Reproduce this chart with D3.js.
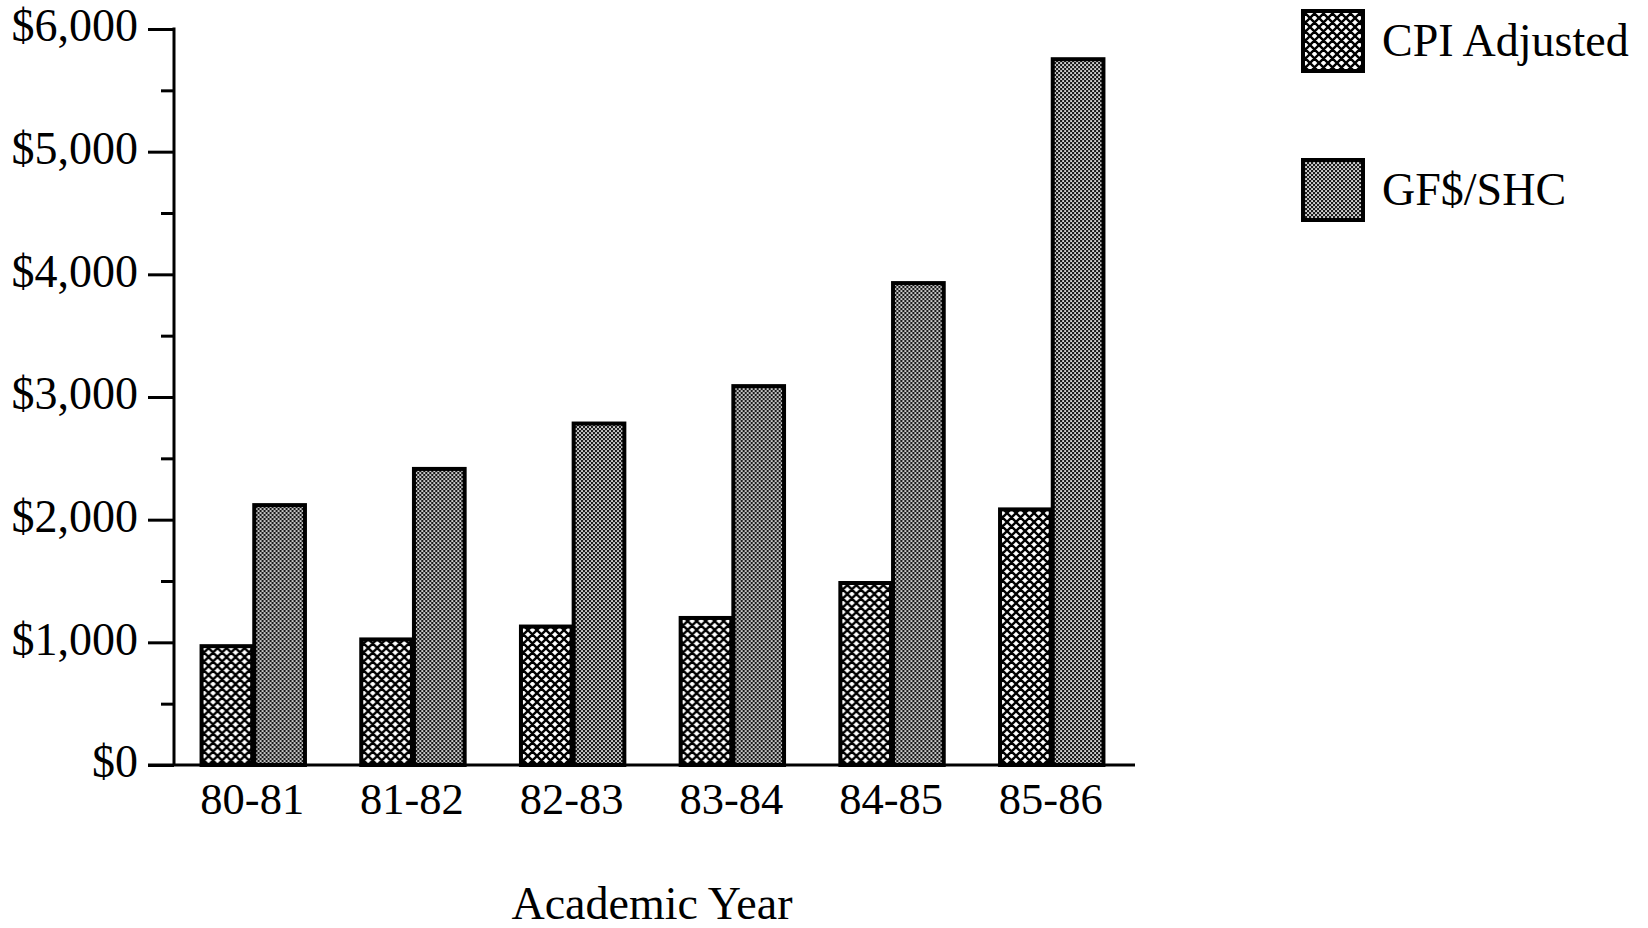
<!DOCTYPE html>
<html>
<head>
<meta charset="utf-8">
<script src="https://cdn.jsdelivr.net/npm/d3@7"></script>
<style>
  html, body { margin: 0; padding: 0; background: #fff; }
  svg { display: block; }
  text { font-family: "Liberation Serif", "Times New Roman", serif; fill: #000; }
</style>
</head>
<body>
<svg id="chart" width="1648" height="928"></svg>
<script>
// Academic years on the x axis
const years = ["80-81", "81-82", "82-83", "83-84", "84-85", "85-86"];
// Series names, in legend order
const seriesNames = ["CPI Adjusted", "GF$/SHC"];
// Dollars per student credit hour
const cpiAdjusted = [985, 1040, 1145, 1215, 1500, 2100];
const gfPerShc = [2135, 2430, 2800, 3105, 3945, 5770];
// Axis ticks
const majorTicks = [0, 1000, 2000, 3000, 4000, 5000, 6000];
const minorTicks = [500, 1500, 2500, 3500, 4500, 5500];
const xTitle = "Academic Year";

const seriesValues = [cpiAdjusted, gfPerShc];
const rows = years.map((yr, i) => ({
  year: yr,
  values: seriesNames.map((s, j) => ({ key: s, value: seriesValues[j][i] }))
}));

const svg = d3.select("#chart");
const axisX = 174;

// Fill patterns
const defs = svg.append("defs");
const hatch = defs.append("pattern")
  .attr("id", "pat-cpi").attr("patternUnits", "userSpaceOnUse")
  .attr("width", 9).attr("height", 9);
hatch.append("rect").attr("width", 9).attr("height", 9).attr("fill", "#fff");
hatch.append("path")
  .attr("d", "M0,0 L9,9 M9,0 L0,9 M-1,1 L1,-1 M8,10 L10,8 M-1,8 L1,10 M8,-1 L10,1")
  .attr("stroke", "#000").attr("stroke-width", 2.4).attr("fill", "none");

const dots = defs.append("pattern")
  .attr("id", "pat-gf").attr("patternUnits", "userSpaceOnUse")
  .attr("width", 4).attr("height", 4);
dots.append("rect").attr("width", 4).attr("height", 4).attr("fill", "#1a1a1a");
dots.append("rect").attr("x", 0.2).attr("y", 0.2).attr("width", 1.7).attr("height", 1.7).attr("fill", "#fff");
dots.append("rect").attr("x", 2.2).attr("y", 2.2).attr("width", 1.7).attr("height", 1.7).attr("fill", "#fff");

const fills = d3.scaleOrdinal().domain(seriesNames).range(["url(#pat-cpi)", "url(#pat-gf)"]);

// Scales
const y = d3.scaleLinear().domain([0, 6000]).range([765, 29]);
const x0 = d3.scaleBand().domain(years).range([axisX, 1129])
  .paddingInner(0.34).paddingOuter(0.16);
const x1 = d3.scaleBand().domain(seriesNames).range([0, x0.bandwidth()]).padding(0);

// Bars
const groups = svg.append("g").selectAll("g")
  .data(rows).join("g")
  .attr("transform", d => `translate(${x0(d.year)},0)`);

groups.selectAll("rect")
  .data(d => d.values).join("rect")
  .attr("x", d => x1(d.key) + 2)
  .attr("y", d => y(d.value) + 2)
  .attr("width", x1.bandwidth() - 2)
  .attr("height", d => y(0) - y(d.value) - 2)
  .attr("fill", d => fills(d.key))
  .attr("stroke", "#000")
  .attr("stroke-width", 4);

// Y axis: major ticks with labels
const yMajor = svg.append("g")
  .attr("transform", `translate(${axisX},0)`)
  .call(d3.axisLeft(y).tickValues(majorTicks).tickSize(26).tickPadding(10)
    .tickFormat(d => "$" + d3.format(",")(d)));
yMajor.select(".domain").remove();
yMajor.selectAll("line").attr("stroke", "#000").attr("stroke-width", 3);
yMajor.selectAll("text")
  .attr("font-family", "Liberation Serif")
  .attr("font-size", 46)
  .attr("dy", "0.26em");

// Y axis: minor ticks
const yMinor = svg.append("g")
  .attr("transform", `translate(${axisX},0)`)
  .call(d3.axisLeft(y).tickValues(minorTicks).tickSize(13).tickFormat(""));
yMinor.select(".domain").remove();
yMinor.selectAll("line").attr("stroke", "#000").attr("stroke-width", 3);

// Y axis spine
svg.append("line")
  .attr("x1", axisX).attr("x2", axisX)
  .attr("y1", y(6000) - 1.5).attr("y2", y(0))
  .attr("stroke", "#000").attr("stroke-width", 3);

// X axis labels
const xAxis = svg.append("g")
  .attr("transform", `translate(0,${y(0)})`)
  .call(d3.axisBottom(x0).tickSize(0).tickPadding(17));
xAxis.select(".domain").remove();
xAxis.selectAll("text")
  .attr("font-family", "Liberation Serif")
  .attr("font-size", 44.5);

// Baseline
svg.append("line")
  .attr("x1", 148).attr("x2", 1135)
  .attr("y1", y(0)).attr("y2", y(0))
  .attr("stroke", "#000").attr("stroke-width", 3);

// X axis title
svg.append("text")
  .attr("x", 652).attr("y", 919)
  .attr("text-anchor", "middle")
  .attr("font-size", 46)
  .text(xTitle);

// Legend
const legend = svg.append("g").selectAll("g")
  .data(seriesNames).join("g")
  .attr("transform", (d, i) => `translate(1301,${9 + i * 149})`);
legend.append("rect")
  .attr("x", 2).attr("y", 2)
  .attr("width", 60).attr("height", 60)
  .attr("fill", d => fills(d))
  .attr("stroke", "#000").attr("stroke-width", 4);
legend.append("text")
  .attr("x", 81).attr("y", 47)
  .attr("font-size", 46)
  .text(d => d);
</script>
</body>
</html>
